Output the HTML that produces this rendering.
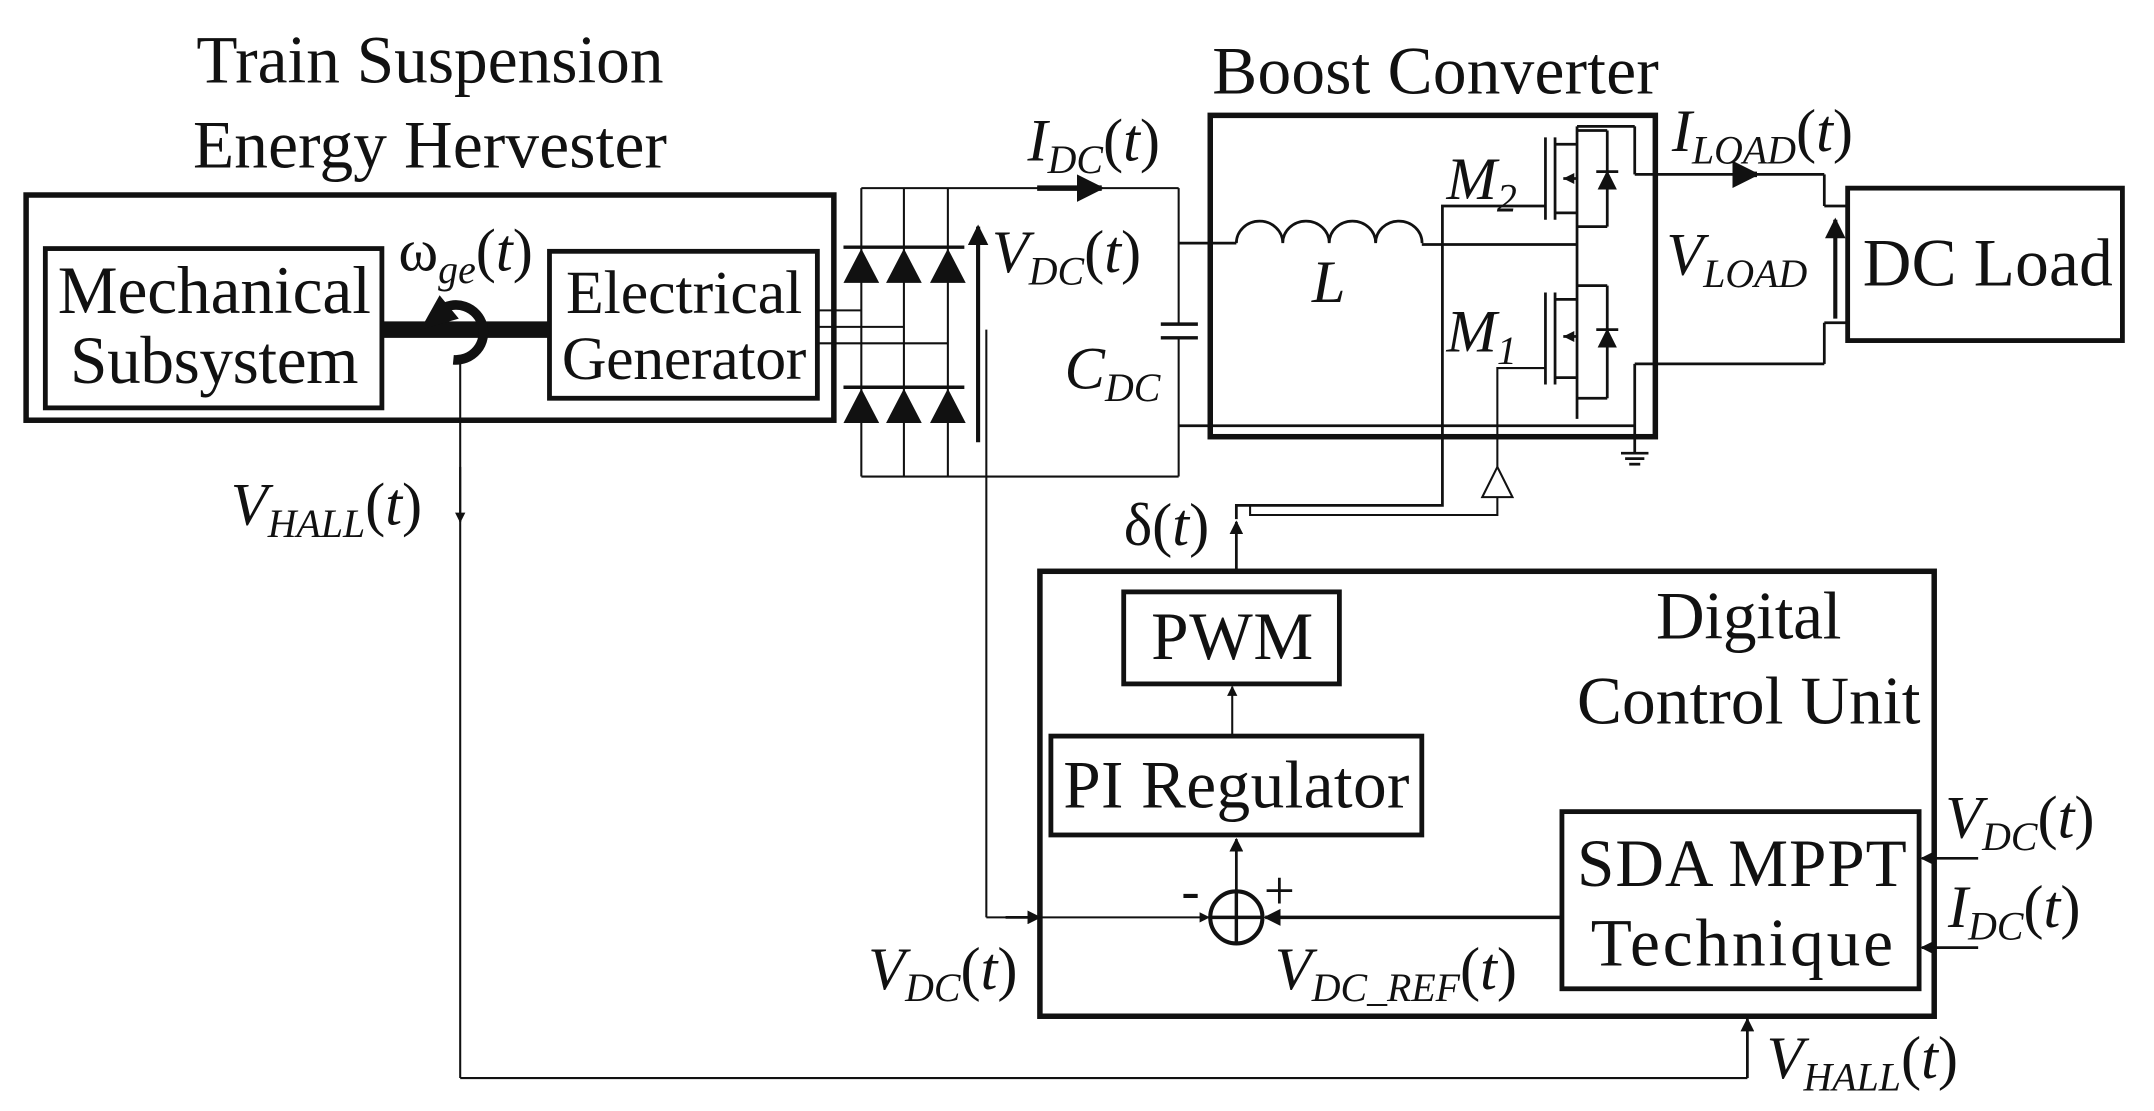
<!DOCTYPE html>
<html><head><meta charset="utf-8"><style>
html,body{margin:0;padding:0;background:#fff;}
svg{display:block;}
text{font-family:"Liberation Serif",serif;fill:#111;}
.i{font-style:italic;}
</style></head><body>
<svg width="2154" height="1111" viewBox="0 0 1568 809" preserveAspectRatio="none" xmlns="http://www.w3.org/2000/svg">
<defs>
<marker id="a" viewBox="0 0 10 10" refX="9" refY="5" markerWidth="5" markerHeight="5" orient="auto"><path d="M0,0 L10,5 L0,10 z" fill="#111"/></marker>
</defs>
<g stroke="#111" fill="none">
<rect x="19" y="142" width="588" height="164" stroke-width="4"/>
<rect x="33" y="181" width="245" height="116" stroke-width="3.5"/>
<rect x="400" y="183" width="195" height="107" stroke-width="3.5"/>
<line x1="278" y1="240" x2="400" y2="240" stroke-width="12"/>
<path d="M320,226 A20,20 0 1 1 330,262" stroke-width="7"/>
<line x1="595" y1="226" x2="627" y2="226" stroke-width="1.5"/>
<line x1="595" y1="238" x2="658" y2="238" stroke-width="1.5"/>
<line x1="595" y1="250" x2="690" y2="250" stroke-width="1.5"/>
<g stroke-width="1.5">
<line x1="627" y1="137" x2="627" y2="347"/>
<line x1="658" y1="137" x2="658" y2="347"/>
<line x1="690" y1="137" x2="690" y2="347"/>
<line x1="627" y1="137" x2="858" y2="137"/>
<line x1="627" y1="347" x2="858" y2="347"/>
<line x1="858" y1="137" x2="858" y2="236"/>
<line x1="858" y1="246" x2="858" y2="347"/>
<line x1="845" y1="236" x2="872" y2="236" stroke-width="2.5"/>
<line x1="845" y1="246" x2="872" y2="246" stroke-width="2.5"/>
<line x1="858" y1="177" x2="900" y2="177" stroke-width="2"/>
<line x1="858" y1="310" x2="1190" y2="310" stroke-width="2"/>
</g>
<g stroke-width="2.5">
<line x1="614" y1="180" x2="702" y2="180"/>
<line x1="614" y1="282" x2="702" y2="282"/>
</g>
<line x1="712" y1="322" x2="712" y2="165" stroke-width="3" marker-end="url(#a)"/>
<line x1="755" y1="137" x2="802" y2="137" stroke-width="4" marker-end="url(#a)"/>
<rect x="881" y="84" width="324" height="234" stroke-width="4"/>
<path d="M900,177 a16.9,16 0 0 1 33.8,0 a16.9,16 0 0 1 33.8,0 a16.9,16 0 0 1 33.8,0 a16.9,16 0 0 1 33.8,0" stroke-width="2"/>
<g stroke-width="2">
<line x1="1035" y1="178" x2="1148" y2="178"/>
<line x1="1148" y1="92" x2="1148" y2="305"/>
<line x1="1148" y1="92" x2="1190" y2="92"/>
<line x1="1190" y1="92" x2="1190" y2="127"/>
<line x1="1190" y1="127" x2="1328" y2="127"/>
<line x1="1328" y1="127" x2="1328" y2="150"/>
<line x1="1328" y1="150" x2="1345" y2="150"/>
<line x1="1190" y1="265" x2="1190" y2="330"/>
<line x1="1190" y1="265" x2="1328" y2="265"/>
<line x1="1328" y1="265" x2="1328" y2="235"/>
<line x1="1328" y1="235" x2="1345" y2="235"/>
<line x1="1125" y1="100" x2="1125" y2="160"/>
<line x1="1132" y1="100" x2="1132" y2="160"/>
<line x1="1132" y1="105" x2="1148" y2="105"/>
<line x1="1132" y1="155" x2="1148" y2="155"/>
<line x1="1148" y1="130" x2="1138" y2="130"/>
<line x1="1148" y1="95" x2="1170" y2="95"/><line x1="1170" y1="95" x2="1170" y2="165"/><line x1="1148" y1="165" x2="1170" y2="165"/>
<line x1="1162" y1="125" x2="1178" y2="125"/>
<line x1="1125" y1="213" x2="1125" y2="280"/>
<line x1="1132" y1="213" x2="1132" y2="280"/>
<line x1="1132" y1="218" x2="1148" y2="218"/>
<line x1="1132" y1="275" x2="1148" y2="275"/>
<line x1="1148" y1="245" x2="1138" y2="245"/>
<line x1="1148" y1="208" x2="1170" y2="208"/><line x1="1170" y1="208" x2="1170" y2="290"/><line x1="1148" y1="290" x2="1170" y2="290"/>
<line x1="1162" y1="240" x2="1178" y2="240"/>
<line x1="1180" y1="330" x2="1200" y2="330"/>
<line x1="1183" y1="334" x2="1197" y2="334"/>
<line x1="1186" y1="338" x2="1194" y2="338"/>
</g>
<polyline points="1125,150 1050,150 1050,368 900,368 900,378" stroke-width="2"/>
<polyline points="1125,268 1090,268 1090,340" stroke-width="1.5"/>
<polygon points="1090,340 1079,362 1101,362" stroke-width="1.5" fill="#fff"/>
<polyline points="1090,362 1090,375 910,375 910,368" stroke-width="1.5"/>
<line x1="1262" y1="127" x2="1279" y2="127" stroke-width="4" marker-end="url(#a)"/>
<line x1="1336" y1="232" x2="1336" y2="160" stroke-width="3" marker-end="url(#a)"/>
<rect x="1345" y="137" width="200" height="111" stroke-width="3.5"/>
<rect x="757" y="416" width="651" height="324" stroke-width="4"/>
<rect x="818" y="431" width="157" height="67" stroke-width="3.5"/>
<rect x="765" y="536" width="270" height="72" stroke-width="3.5"/>
<rect x="1137" y="591" width="260" height="129" stroke-width="3.5"/>
<circle cx="900" cy="668" r="19" stroke-width="3"/>
<line x1="881" y1="668" x2="919" y2="668" stroke-width="2.5"/>
<line x1="900" y1="649" x2="900" y2="687" stroke-width="2.5"/>
<line x1="900" y1="416" x2="900" y2="380" stroke-width="2" marker-end="url(#a)"/>
<line x1="897" y1="535" x2="897" y2="500" stroke-width="1.5" marker-end="url(#a)"/>
<line x1="900" y1="648" x2="900" y2="611" stroke-width="2" marker-end="url(#a)"/>
<line x1="1137" y1="668" x2="921" y2="668" stroke-width="2.5" marker-end="url(#a)"/>
<line x1="718" y1="240" x2="718" y2="668" stroke-width="1.5"/>
<line x1="718" y1="668" x2="880" y2="668" stroke-width="1.5" marker-end="url(#a)"/>
<line x1="732" y1="668" x2="757" y2="668" stroke-width="2" marker-end="url(#a)"/>
<line x1="1440" y1="625" x2="1399" y2="625" stroke-width="2" marker-end="url(#a)"/>
<line x1="1440" y1="690" x2="1399" y2="690" stroke-width="2" marker-end="url(#a)"/>
<line x1="335" y1="262" x2="335" y2="785" stroke-width="1.5"/>
<line x1="335" y1="340" x2="335" y2="380" stroke-width="1.5" marker-end="url(#a)"/>
<line x1="335" y1="785" x2="1272" y2="785" stroke-width="1.5"/>
<line x1="1272" y1="785" x2="1272" y2="742" stroke-width="2" marker-end="url(#a)"/>
</g>
<polygon points="320,215 306,240 334,232" fill="#111"/>
<g fill="#111">
<polygon points="627,181 614,206 640,206"/><polygon points="658,181 645,206 671,206"/><polygon points="690,181 677,206 703,206"/>
<polygon points="627,283 614,308 640,308"/><polygon points="658,283 645,308 671,308"/><polygon points="690,283 677,308 703,308"/>
<polygon points="1170,124 1163,138 1177,138"/><polygon points="1170,239 1163,253 1177,253"/>
<polygon points="1138,130 1146,126 1146,134"/><polygon points="1138,245 1146,241 1146,249"/>
</g>
<g font-size="49" text-anchor="middle">
<text x="313" y="60" textLength="340">Train Suspension</text>
<text x="313" y="122" textLength="345">Energy Hervester</text>
<text x="156" y="228" textLength="228">Mechanical</text>
<text x="156" y="279" textLength="210">Subsystem</text>
<text x="498" y="228" font-size="45" textLength="172">Electrical</text>
<text x="498" y="276" font-size="45" textLength="178">Generator</text>
<text x="1045" y="68" textLength="325">Boost Converter</text>
<text x="1447" y="208" textLength="182">DC Load</text>
<text x="897" y="480" textLength="118">PWM</text>
<text x="900" y="588" textLength="252">PI Regulator</text>
<text x="1268" y="645" textLength="240">SDA MPPT</text>
<text x="1268" y="703" textLength="220">Technique</text>
<text x="1273" y="465" textLength="135">Digital</text>
<text x="1273" y="527" textLength="250">Control Unit</text>
</g>
<g font-size="44">
<text x="290" y="197">ω<tspan class="i" font-size="29" dy="9">ge</tspan><tspan dy="-9">(</tspan><tspan class="i">t</tspan>)</text>
<text x="748" y="117" class="i">I<tspan font-size="29" dy="9">DC</tspan><tspan dy="-9" font-style="normal">(</tspan>t<tspan font-style="normal">)</tspan></text>
<text x="722" y="198" class="i">V<tspan font-size="29" dy="9">DC</tspan><tspan dy="-9" font-style="normal">(</tspan>t<tspan font-style="normal">)</tspan></text>
<text x="775" y="283" class="i">C<tspan font-size="29" dy="9">DC</tspan></text>
<text x="955" y="220" class="i">L</text>
<text x="1053" y="145" class="i">M<tspan font-size="29" dy="9">2</tspan></text>
<text x="1053" y="256" class="i">M<tspan font-size="29" dy="9">1</tspan></text>
<text x="1217" y="110" class="i">I<tspan font-size="29" dy="9">LOAD</tspan><tspan dy="-9" font-style="normal">(</tspan>t<tspan font-style="normal">)</tspan></text>
<text x="1213" y="200" class="i">V<tspan font-size="29" dy="9">LOAD</tspan></text>
<text x="168" y="382" class="i">V<tspan font-size="29" dy="9">HALL</tspan><tspan dy="-9" font-style="normal">(</tspan>t<tspan font-style="normal">)</tspan></text>
<text x="818" y="397">δ(<tspan class="i">t</tspan>)</text>
<text x="632" y="720" class="i">V<tspan font-size="29" dy="9">DC</tspan><tspan dy="-9" font-style="normal">(</tspan>t<tspan font-style="normal">)</tspan></text>
<text x="928" y="720" class="i">V<tspan font-size="29" dy="9">DC_REF</tspan><tspan dy="-9" font-style="normal">(</tspan>t<tspan font-style="normal">)</tspan></text>
<text x="1416" y="610" class="i">V<tspan font-size="29" dy="9">DC</tspan><tspan dy="-9" font-style="normal">(</tspan>t<tspan font-style="normal">)</tspan></text>
<text x="1418" y="675" class="i">I<tspan font-size="29" dy="9">DC</tspan><tspan dy="-9" font-style="normal">(</tspan>t<tspan font-style="normal">)</tspan></text>
<text x="1286" y="785" class="i">V<tspan font-size="29" dy="9">HALL</tspan><tspan dy="-9" font-style="normal">(</tspan>t<tspan font-style="normal">)</tspan></text>
<text x="860" y="662" font-size="40">-</text>
<text x="920" y="662" font-size="40">+</text>
</g>
</svg>
</body></html>
